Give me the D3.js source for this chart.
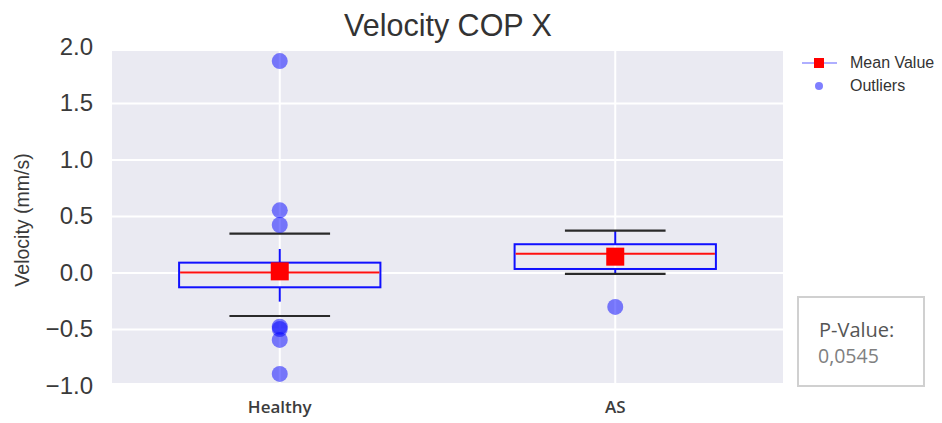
<!DOCTYPE html>
<html>
<head>
<meta charset="utf-8">
<script src="https://cdn.jsdelivr.net/npm/d3@7"></script>
<style>
  html, body { margin: 0; padding: 0; background: #fff; }
  svg { display: block; }
</style>
</head>
<body>
<svg id="chart" width="942" height="423"></svg>
<script>
// Groups and box statistics (velocity in mm/s)
const groups = ["Healthy", "AS"];
const q1 = [-0.131, 0.031];
const q3 = [0.087, 0.250];
const medians = [0.000, 0.166];
const means = [0.010, 0.140];
const whiskerLow = [-0.258, -0.013];
const whiskerHigh = [0.208, 0.370];
const capLow = [-0.385, -0.013];
const capHigh = [0.343, 0.370];
const outliers = [
  [1.871, 0.550, 0.420, -0.480, -0.500, -0.597, -0.898],
  [-0.305]
];
const yTicks = [-1.0, -0.5, 0.0, 0.5, 1.0, 1.5, 2.0];
const pValue = "0,0545";

const svg = d3.select("#chart");
const plot = { left: 112, right: 783, top: 51, bottom: 383 };

const x = d3.scaleBand().domain(groups).range([plot.left, plot.right]).padding(0);
const y = d3.scaleLinear().domain([-0.978, 1.96]).range([plot.bottom, plot.top]);
const cx = g => x(g) + x.bandwidth() / 2;

// plot background
svg.append("rect")
  .attr("x", plot.left).attr("y", plot.top)
  .attr("width", plot.right - plot.left).attr("height", plot.bottom - plot.top)
  .attr("fill", "#eaeaf2");

// grid lines and y tick labels
const yAxis = d3.axisLeft(y).tickValues(yTicks)
  .tickSize(-(plot.right - plot.left)).tickPadding(19);
const yg = svg.append("g").attr("transform", `translate(${plot.left},0)`).call(yAxis);
yg.select(".domain").remove();
yg.selectAll(".tick line").attr("stroke", "#fff").attr("stroke-width", 2)
  .filter(d => y(d) < plot.top || y(d) > plot.bottom).remove();
yg.selectAll(".tick text")
  .attr("font-family", "Liberation Sans, Arial, sans-serif")
  .attr("font-size", 24).attr("fill", "#3a3a3a")
  .text(d => d < 0 ? "\u2212" + d3.format(".1f")(-d) : d3.format(".1f")(d));

const xAxis = d3.axisBottom(x).tickSize(-(plot.bottom - plot.top)).tickPadding(22);
const xg = svg.append("g").attr("transform", `translate(0,${plot.bottom})`).call(xAxis);
xg.select(".domain").remove();
xg.selectAll(".tick line").attr("stroke", "#fff").attr("stroke-width", 2);
xg.selectAll(".tick text")
  .attr("font-family", "Open Sans, sans-serif")
  .attr("font-size", 17).attr("font-weight", 600).attr("fill", "#3c3c3c")
  .attr("dy", "0.45em");

// boxes
groups.forEach((g, i) => {
  const c = cx(g);
  const bw = x.bandwidth() * 0.6;
  const cw = x.bandwidth() * 0.3;
  const G = svg.append("g");
  // blue whiskers
  G.append("line").attr("x1", c).attr("x2", c)
    .attr("y1", y(q3[i])).attr("y2", y(whiskerHigh[i]))
    .attr("stroke", "#1010ff").attr("stroke-width", 2);
  G.append("line").attr("x1", c).attr("x2", c)
    .attr("y1", y(q1[i])).attr("y2", y(whiskerLow[i]))
    .attr("stroke", "#1010ff").attr("stroke-width", 2);
  // black caps
  [capLow[i], capHigh[i]].forEach(v => {
    G.append("line").attr("x1", c - cw / 2).attr("x2", c + cw / 2)
      .attr("y1", y(v)).attr("y2", y(v))
      .attr("stroke", "#2a2a2a").attr("stroke-width", 2.2);
  });
  // box
  G.append("rect").attr("x", c - bw / 2).attr("width", bw)
    .attr("y", y(q3[i])).attr("height", y(q1[i]) - y(q3[i]))
    .attr("fill", "none").attr("stroke", "#1010ff").attr("stroke-width", 2);
  // median
  G.append("line").attr("x1", c - bw / 2 + 1).attr("x2", c + bw / 2 - 1)
    .attr("y1", y(medians[i])).attr("y2", y(medians[i]))
    .attr("stroke", "#ff1010").attr("stroke-width", 1.8);
  // outliers
  G.selectAll("circle").data(outliers[i]).join("circle")
    .attr("cx", c).attr("cy", d => y(d)).attr("r", 8)
    .attr("fill", "#0000ff").attr("fill-opacity", 0.5);
  // mean marker
  G.append("rect").attr("x", c - 9).attr("y", y(means[i]) - 9)
    .attr("width", 18).attr("height", 18).attr("fill", "#ff0000");
});

// title
svg.append("text").attr("x", 448).attr("y", 36).attr("text-anchor", "middle")
  .attr("font-family", "Liberation Sans, Arial, sans-serif")
  .attr("font-size", 30.5).attr("fill", "#333").text("Velocity COP X");

// y label
svg.append("text")
  .attr("transform", `translate(29,220) rotate(-90)`)
  .attr("text-anchor", "middle")
  .attr("font-family", "Liberation Sans, Arial, sans-serif")
  .attr("font-size", 19.5).attr("fill", "#3a3a3a").text("Velocity (mm/s)");

// legend
const lg = svg.append("g");
lg.append("line").attr("x1", 802).attr("x2", 837).attr("y1", 63).attr("y2", 63)
  .attr("stroke", "#6060ff").attr("stroke-width", 1.2);
lg.append("rect").attr("x", 814).attr("y", 58).attr("width", 10).attr("height", 10)
  .attr("fill", "#ff0000");
lg.append("text").attr("x", 850).attr("y", 68)
  .attr("font-family", "Liberation Sans, Arial, sans-serif")
  .attr("font-size", 16).attr("fill", "#333").text("Mean Value");
lg.append("circle").attr("cx", 819).attr("cy", 86).attr("r", 4)
  .attr("fill", "#0000ff").attr("fill-opacity", 0.5);
lg.append("text").attr("x", 850).attr("y", 91)
  .attr("font-family", "Liberation Sans, Arial, sans-serif")
  .attr("font-size", 16).attr("fill", "#333").text("Outliers");

// p-value box
svg.append("rect").attr("x", 798).attr("y", 297).attr("width", 126).attr("height", 89)
  .attr("fill", "#fff").attr("stroke", "#d0d0d0").attr("stroke-width", 2);
svg.append("text").attr("x", 819).attr("y", 337)
  .attr("font-family", "Open Sans, sans-serif")
  .attr("font-size", 20).attr("fill", "#555").text("P-Value:");
svg.append("text").attr("x", 818).attr("y", 363)
  .attr("font-family", "Open Sans, sans-serif")
  .attr("font-size", 19.5).attr("fill", "#808080").text(pValue);
</script>
</body>
</html>
